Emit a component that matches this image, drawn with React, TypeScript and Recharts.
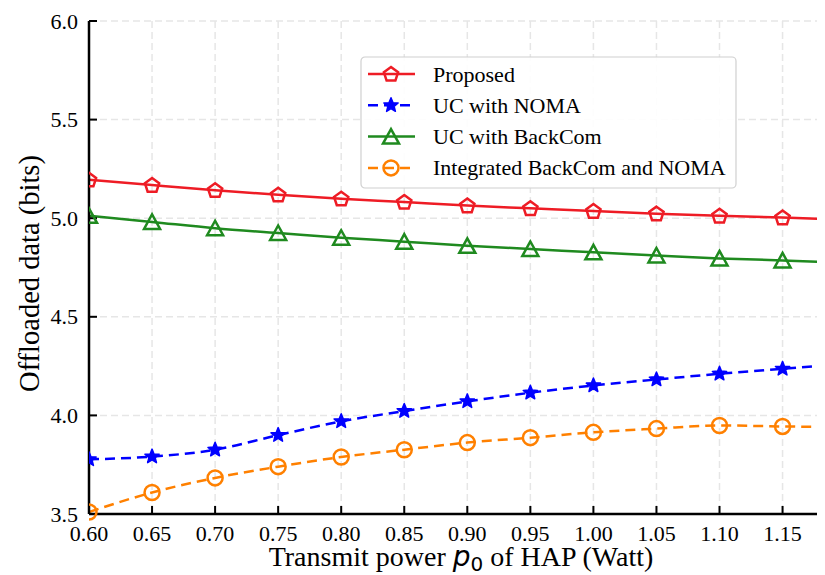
import React from "react"
import { LineChart, Line, XAxis, YAxis, CartesianGrid, Legend } from "recharts"

const xs = [0.6, 0.65, 0.7, 0.75, 0.8, 0.85, 0.9, 0.95, 1.0, 1.05, 1.1, 1.15, 1.2]
const proposed = [5.195, 5.168, 5.142, 5.119, 5.099, 5.082, 5.064, 5.05, 5.036, 5.023, 5.012, 5.003, 4.993]
const ucNoma = [3.777, 3.791, 3.826, 3.9, 3.97, 4.022, 4.071, 4.115, 4.152, 4.182, 4.211, 4.236, 4.262]
const ucBackcom = [5.012, 4.981, 4.949, 4.925, 4.901, 4.881, 4.86, 4.844, 4.827, 4.811, 4.796, 4.786, 4.774]
const integrated = [3.51, 3.609, 3.683, 3.74, 3.789, 3.826, 3.862, 3.887, 3.914, 3.933, 3.949, 3.944, 3.94]

const xTicks = [0.6, 0.65, 0.7, 0.75, 0.8, 0.85, 0.9, 0.95, 1.0, 1.05, 1.1, 1.15]
const yTicks = [3.5, 4.0, 4.5, 5.0, 5.5, 6.0]

const SERIF = "Liberation Serif"

type Marker = "pentagon" | "star" | "triangle" | "circle"

const SERIES: { name: string; values: number[]; color: string; dash?: string; marker: Marker }[] = [
  { name: "Proposed", values: proposed, color: "#ee1c25", marker: "pentagon" },
  { name: "UC with NOMA", values: ucNoma, color: "#0000ff", dash: "10 6", marker: "star" },
  { name: "UC with BackCom", values: ucBackcom, color: "#1f8a1f", marker: "triangle" },
  { name: "Integrated BackCom and NOMA", values: integrated, color: "#ff8000", dash: "10 6", marker: "circle" },
]

function polygon(cx: number, cy: number, n: number, r: number, rInner?: number) {
  const pts: string[] = []
  const count = rInner ? n * 2 : n
  for (let i = 0; i < count; i++) {
    const a = -Math.PI / 2 + (i * 2 * Math.PI) / count
    const rr = rInner && i % 2 === 1 ? rInner : r
    pts.push(`${cx + rr * Math.cos(a)},${cy + rr * Math.sin(a)}`)
  }
  return pts.join(" ")
}

function MarkerShape({ type, cx, cy, color }: { type: Marker; cx: number; cy: number; color: string }) {
  if (type === "pentagon")
    return <polygon points={polygon(cx, cy + 0.5, 5, 7.5)} fill="none" stroke={color} strokeWidth={2.5} />
  if (type === "star")
    return <polygon points={polygon(cx, cy, 5, 7.5, 3.3)} fill={color} stroke={color} strokeWidth={1.5} strokeLinejoin="round" />
  if (type === "triangle")
    return (
      <polygon
        points={`${cx},${cy - 7.5} ${cx - 8},${cy + 7} ${cx + 8},${cy + 7}`}
        fill="none"
        stroke={color}
        strokeWidth={2.5}
      />
    )
  return <circle cx={cx} cy={cy} r={7.5} fill="none" stroke={color} strokeWidth={2.5} />
}

function LegendBox() {
  return (
    <svg width={377} height={133} style={{ display: "block" }}>
      <rect x={1} y={1} width={375} height={131} rx={4} fill="#fff" fillOpacity={0.9} stroke="#d0d0d0" strokeWidth={1.2} />
      {SERIES.map((s, i) => {
        const y = 18 + i * 31.3
        return (
          <g key={s.name}>
            <line x1={8} x2={55} y1={y} y2={y} stroke={s.color} strokeWidth={2.5} strokeDasharray={s.dash} />
            <MarkerShape type={s.marker} cx={31} cy={y} color={s.color} />
            <text x={73} y={y} dominantBaseline="central" fontFamily={SERIF} fontSize={22} fill="#000">
              {s.name}
            </text>
          </g>
        )
      })}
    </svg>
  )
}

function XTick(props: any) {
  const { x, y, payload } = props
  return (
    <text x={x} y={y + 16} textAnchor="middle" style={{ fontFamily: SERIF, fontSize: 22 }} fill="#000">
      {Number(payload.value).toFixed(2)}
    </text>
  )
}

function YTick(props: any) {
  const { x, y, payload } = props
  return (
    <text x={x} y={y + 7.5} textAnchor="end" style={{ fontFamily: SERIF, fontSize: 22 }} fill="#000">
      {Number(payload.value).toFixed(1)}
    </text>
  )
}

function XLabel(props: any) {
  const vb = props.viewBox || { x: 81, y: 506, width: 744, height: 61 }
  const cx = vb.x + vb.width / 2
  return (
    <text x={cx} y={vb.y + 51.5} textAnchor="middle" fontFamily={SERIF} fontSize={28} fill="#000">
      {"Transmit power "}
      <tspan fontFamily="DejaVu Sans" fontStyle="italic">p</tspan>
      <tspan fontFamily="DejaVu Sans" fontSize={20} dy={5}>0</tspan>
      <tspan dy={-5}>{" of HAP (Watt)"}</tspan>
    </text>
  )
}

function YLabel(props: any) {
  const vb = props.viewBox || { x: 0, y: 13, width: 81, height: 493 }
  const cy = vb.y + vb.height / 2 + 6
  const cx = 21
  return (
    <text
      x={cx}
      y={cy}
      transform={`rotate(-90 ${cx} ${cy})`}
      textAnchor="middle"
      dominantBaseline="central"
      fontFamily={SERIF}
      fontSize={28.5}
      fill="#000"
    >
      Offloaded data (bits)
    </text>
  )
}

export default function App() {
  const axisLine = { stroke: "#000", strokeWidth: 2.5 }
  const tickLine = { stroke: "#000", strokeWidth: 2 }

  return (
    <div style={{ width: 817, height: 567, overflow: "hidden", fontFamily: SERIF }}>
      <LineChart width={860} height={567} margin={{ top: 13, right: 35, left: 0, bottom: 0 }}>
        <CartesianGrid stroke="#e6e6e6" strokeWidth={1.5} strokeDasharray="7 4" />
        <XAxis
          dataKey="x"
          type="number"
          domain={[0.6, 1.19]}
          allowDataOverflow
          ticks={xTicks}
          interval={0}
          height={61}
          tick={(p: any) => <XTick {...p} />}
          tickSize={-8}
          tickMargin={19}
          axisLine={axisLine}
          tickLine={tickLine}
          label={{ content: XLabel }}
        />
        <XAxis
          xAxisId="top"
          orientation="top"
          dataKey="x"
          type="number"
          domain={[0.6, 1.19]}
          allowDataOverflow
          ticks={xTicks}
          interval={0}
          height={0}
          tick={false}
          tickSize={-8}
          axisLine={axisLine}
          tickLine={tickLine}
        />
        <YAxis
          type="number"
          domain={[3.5, 6]}
          ticks={yTicks}
          interval={0}
          width={81}
          tick={(p: any) => <YTick {...p} />}
          tickSize={-8}
          tickMargin={19}
          axisLine={axisLine}
          tickLine={tickLine}
          label={{ content: YLabel }}
        />
        <YAxis
          yAxisId="right"
          orientation="right"
          type="number"
          domain={[3.5, 6]}
          ticks={yTicks}
          interval={0}
          width={0}
          tick={false}
          tickSize={-8}
          axisLine={axisLine}
          tickLine={tickLine}
        />
        {SERIES.map((s) => (
          <Line
            key={s.name}
            name={s.name}
            data={xs.map((x, i) => ({ x, y: s.values[i] }))}
            dataKey="y"
            type="monotone"
            stroke={s.color}
            strokeWidth={2.5}
            strokeDasharray={s.dash}
            isAnimationActive={false}
            dot={(p: any) => (
              <MarkerShape key={`${s.name}-${p.index}`} type={s.marker} cx={p.cx} cy={p.cy} color={s.color} />
            )}
            activeDot={false}
          />
        ))}
        <Legend
          layout="vertical"
          align="center"
          verticalAlign="middle"
          content={() => <LegendBox />}
          wrapperStyle={{ position: "absolute", left: 352, top: 48, width: 377, height: 133 }}
        />
      </LineChart>
    </div>
  )
}
